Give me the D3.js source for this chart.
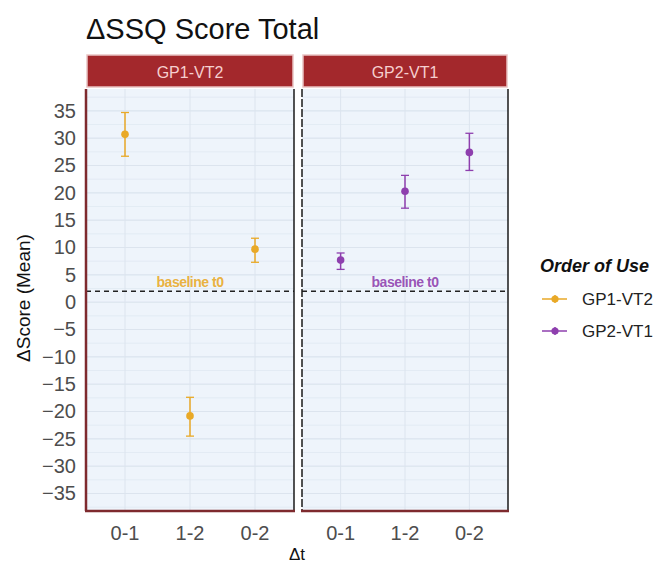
<!DOCTYPE html>
<html>
<head>
<meta charset="utf-8">
<script src="https://cdn.jsdelivr.net/npm/d3@7"></script>
<style>
  body { margin: 0; background: #fff; }
  text { font-family: "Liberation Sans", Arial, sans-serif; }
</style>
</head>
<body>
<svg width="654" height="566"></svg>
<script>
// data
const steps = ["0-1", "1-2", "0-2"]
const groups = ["GP1-VT2", "GP2-VT1"]
const colors = ["#E9A927", "#8E3FAE"]
const gp1Mean = [30.7, -20.8, 9.7]
const gp1Low = [26.7, -24.5, 7.3]
const gp1High = [34.7, -17.4, 11.7]
const gp2Mean = [7.7, 20.3, 27.4]
const gp2Low = [6.0, 17.2, 24.1]
const gp2High = [9.0, 23.2, 30.9]
const yTicks = [35, 30, 25, 20, 15, 10, 5, 0, -5, -10, -15, -20, -25, -30, -35]
const baseline = 2

const series = [
  { mean: gp1Mean, low: gp1Low, high: gp1High },
  { mean: gp2Mean, low: gp2Low, high: gp2High }
]

const svg = d3.select("svg")

const plotTop = 89, plotBottom = 511
const panels = [{ x0: 86, x1: 294 }, { x0: 302, x1: 508 }]

var y = d3.scaleLinear().domain([-38.2, 39]).range([plotBottom, plotTop])

svg.append("text")
  .attr("x", 86).attr("y", 39)
  .attr("font-size", 29)
  .attr("fill", "#111")
  .text("\u0394SSQ Score Total")

panels.forEach(function (p, i) {
  var x = d3.scalePoint().domain(steps).range([p.x0, p.x1]).padding(0.6)
  var g = svg.append("g")

  // strip
  g.append("rect")
    .attr("x", p.x0 + 1).attr("y", 55)
    .attr("width", p.x1 - p.x0 - 2).attr("height", 32)
    .attr("fill", "#A3282C")
    .attr("stroke", "#E9C3C3").attr("stroke-width", 1.5)
  g.append("text")
    .attr("x", (p.x0 + p.x1) / 2).attr("y", 78)
    .attr("text-anchor", "middle")
    .attr("font-size", 16)
    .attr("fill", "#F6CFCF")
    .text(groups[i])

  // panel background
  g.append("rect")
    .attr("x", p.x0).attr("y", plotTop)
    .attr("width", p.x1 - p.x0).attr("height", plotBottom - plotTop)
    .attr("fill", "#EEF4FB")

  // minor grid
  var minor = d3.range(-37.5, 39, 2.5)
  g.selectAll(".minor").data(minor).enter().append("line")
    .attr("x1", p.x0).attr("x2", p.x1)
    .attr("y1", d => y(d)).attr("y2", d => y(d))
    .attr("stroke", "#E0E8F2").attr("stroke-width", 0.8)
  g.selectAll(".major").data(yTicks).enter().append("line")
    .attr("x1", p.x0).attr("x2", p.x1)
    .attr("y1", d => y(d)).attr("y2", d => y(d))
    .attr("stroke", "#DCE4EE").attr("stroke-width", 1)
  g.selectAll(".vgrid").data(steps).enter().append("line")
    .attr("x1", d => x(d)).attr("x2", d => x(d))
    .attr("y1", plotTop).attr("y2", plotBottom)
    .attr("stroke", "#DCE4EE").attr("stroke-width", 1)

  // baseline
  g.append("line")
    .attr("x1", p.x0).attr("x2", p.x1)
    .attr("y1", y(baseline)).attr("y2", y(baseline))
    .attr("stroke", "#222").attr("stroke-width", 1.3)
    .attr("stroke-dasharray", "5,4")
  g.append("text")
    .attr("x", x("1-2")).attr("y", y(baseline) - 4)
    .attr("text-anchor", "middle")
    .attr("font-size", 14)
    .attr("font-weight", "bold")
    .attr("letter-spacing", "-0.5")
    .attr("fill", colors[i])
    .attr("fill-opacity", 0.9)
    .text("baseline t0")

  // error bars + points
  var s = series[i]
  var idx = d3.range(steps.length)
  g.selectAll(".err").data(idx).enter().append("line")
    .attr("x1", d => x(steps[d])).attr("x2", d => x(steps[d]))
    .attr("y1", d => y(s.low[d])).attr("y2", d => y(s.high[d]))
    .attr("stroke", colors[i]).attr("stroke-width", 1.5)
  ;["low", "high"].forEach(function (k) {
    g.selectAll(".cap" + k).data(idx).enter().append("line")
      .attr("x1", d => x(steps[d]) - 4).attr("x2", d => x(steps[d]) + 4)
      .attr("y1", d => y(s[k][d])).attr("y2", d => y(s[k][d]))
      .attr("stroke", colors[i]).attr("stroke-width", 1.3)
  })
  g.selectAll(".pt").data(idx).enter().append("circle")
    .attr("cx", d => x(steps[d])).attr("cy", d => y(s.mean[d]))
    .attr("r", 3.8)
    .attr("fill", colors[i])

  // borders
  g.append("line")
    .attr("x1", p.x1).attr("x2", p.x1).attr("y1", plotTop).attr("y2", plotBottom)
    .attr("stroke", "#1a1a1a").attr("stroke-width", 1.5)
  if (i === 0) {
    g.append("line")
      .attr("x1", p.x0).attr("x2", p.x0).attr("y1", plotTop).attr("y2", plotBottom)
      .attr("stroke", "#7E2A2E").attr("stroke-width", 2.5)
  } else {
    g.append("line")
      .attr("x1", p.x0).attr("x2", p.x0).attr("y1", plotTop).attr("y2", plotBottom)
      .attr("stroke", "#1a1a1a").attr("stroke-width", 1.5)
      .attr("stroke-dasharray", "8,2")
  }
  g.append("line")
    .attr("x1", p.x0 - 1).attr("x2", p.x1 + 1).attr("y1", plotBottom).attr("y2", plotBottom)
    .attr("stroke", "#7E2A2E").attr("stroke-width", 2.5)

  // x tick labels
  g.selectAll(".xt").data(steps).enter().append("text")
    .attr("x", d => x(d)).attr("y", 540)
    .attr("text-anchor", "middle")
    .attr("font-size", 20)
    .attr("fill", "#4D4D4D")
    .text(d => d)
})

// y axis
var yAxis = d3.axisLeft(y).tickValues(yTicks).tickSize(0).tickPadding(10)
var ya = svg.append("g").attr("transform", "translate(" + panels[0].x0 + ",0)").call(yAxis)
ya.select(".domain").remove()
ya.selectAll("text")
  .attr("font-size", 20)
  .attr("fill", "#4D4D4D")
  .style("font-family", "Liberation Sans, Arial, sans-serif")

svg.append("text")
  .attr("transform", "translate(30,298) rotate(-90)")
  .attr("text-anchor", "middle")
  .attr("font-size", 19)
  .attr("fill", "#111")
  .text("\u0394Score (Mean)")

svg.append("text")
  .attr("x", 297).attr("y", 560)
  .attr("text-anchor", "middle")
  .attr("font-size", 17)
  .attr("fill", "#111")
  .text("\u0394t")

// legend
var lg = svg.append("g").attr("transform", "translate(540,0)")
lg.append("text")
  .attr("x", 0).attr("y", 272)
  .attr("font-size", 18)
  .attr("font-weight", "bold")
  .attr("font-style", "italic")
  .attr("fill", "#111")
  .text("Order of Use")
groups.forEach(function (gname, i) {
  var cy = 299 + i * 32
  lg.append("line")
    .attr("x1", 2).attr("x2", 27).attr("y1", cy).attr("y2", cy)
    .attr("stroke", colors[i]).attr("stroke-width", 1.5)
  lg.append("line")
    .attr("x1", 15).attr("x2", 15).attr("y1", cy - 4).attr("y2", cy + 4)
    .attr("stroke", colors[i]).attr("stroke-width", 1.5)
  lg.append("circle")
    .attr("cx", 15).attr("cy", cy).attr("r", 3.6)
    .attr("fill", colors[i])
  lg.append("text")
    .attr("x", 42).attr("y", cy + 6)
    .attr("font-size", 17)
    .attr("fill", "#222")
    .text(gname)
})
</script>
</body>
</html>
